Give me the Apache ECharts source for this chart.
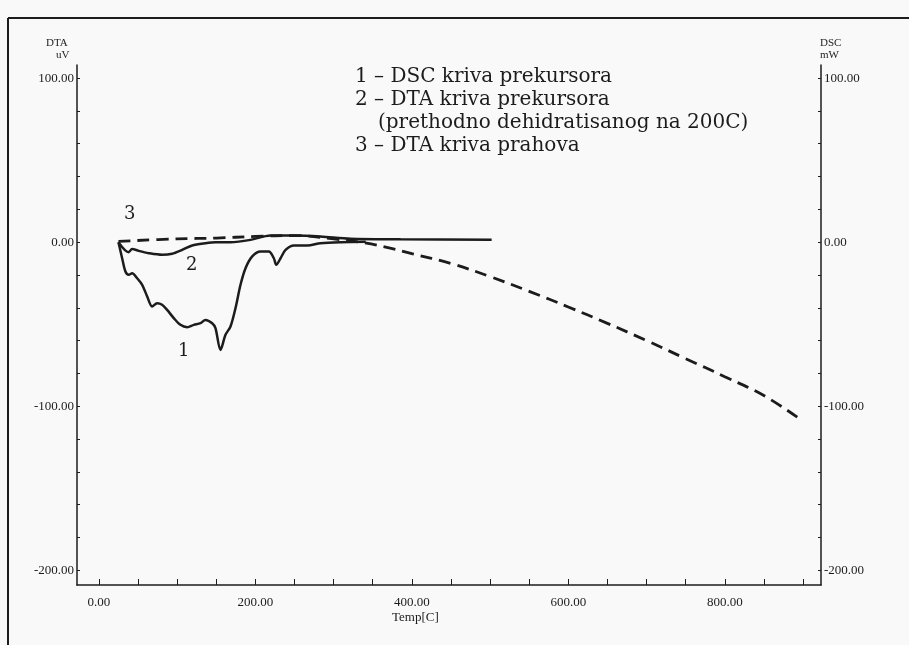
<!DOCTYPE html>
<html>
<head>
<meta charset="utf-8">
<script src="https://cdn.jsdelivr.net/npm/echarts@6/dist/echarts.min.js"></script>
<style>
  html, body { margin: 0; padding: 0; background: #f9f9f9; }
  #chart { width: 909px; height: 645px; }
</style>
</head>
<body>
<div id="chart"></div>
<script>
// 1 - DSC kriva prekursora
var dscTemp = [25, 29.7, 33.9, 38.1, 42.5, 48.9, 55.3, 61.7, 68, 74.4, 80.8, 87.2, 95.7, 104.2, 112.8, 121.3, 129.8, 136.2, 144.8, 149,
  155.4, 161.8, 168.2, 174.6, 181, 187.4, 196, 206.6, 217.2, 223.6, 226.7, 232.2, 238.6, 249.2, 266.3, 283.3, 309, 341];
var dscVal = [0, -9.8, -17.9, -19.9, -18.9, -22, -26, -33.1, -39.2, -37.2, -38.2, -41.3, -46.3, -50.4, -51.8, -50.4, -49.4, -47.4, -49.4, -52.4,
  -65.7, -56.5, -51.4, -40.2, -26, -15.9, -8.7, -5.7, -5.7, -9.8, -13.8, -9.8, -4.7, -2, -2, -0.6, 0, 0.2];

// 2 - DTA kriva prekursora (dehidratisan na 200C)
var dtaPrekTemp = [25, 38.1, 42.5, 50.9, 63.7, 80.8, 93.6, 106.4, 119.2, 136.2, 149, 168, 193.8, 219.4, 248.8, 283.3, 321.7, 385.6, 502];
var dtaPrekVal = [0, -6.1, -4.1, -5.3, -6.7, -7.7, -7.1, -4.7, -2, -0.6, 0, 0, 1.4, 4.1, 4.1, 3.5, 2.1, 1.8, 1.5];

// 3 - DTA kriva prahova
var dtaPrahTemp = [25, 100, 150, 200, 250, 300, 340, 375, 400, 450, 500, 550, 600, 650, 700, 750, 800, 850, 895];
var dtaPrahVal = [0.5, 2, 2.5, 3.5, 4, 2, -0.5, -4, -7, -13, -21, -30, -39.5, -49.5, -60, -71, -82, -93.5, -107.5];

var xLabels = [0, 200, 400, 600, 800];
var xTicks = [0, 50, 100, 150, 200, 250, 300, 350, 400, 450, 500, 550, 600, 650, 700, 750, 800, 850, 900];
var yLabels = [-200, -100, 0, 100];
var yTicks = [-200, -180, -160, -140, -120, -100, -80, -60, -40, -20, 0, 20, 40, 60, 80, 100];

var legendLines = ['1 – DSC kriva prekursora', '2 – DTA kriva prekursora',
  '(prethodno dehidratisanog na 200C)', '3 – DTA kriva prahova'];

function pairs(xs, ys) {
  return xs.map(function (x, i) { return [x, ys[i]]; });
}

var ink = '#1c1c1c';
var labelFont = { fontFamily: 'Liberation Serif', fontSize: 13, color: ink };
var fixed2 = function (v) { return v.toFixed(2); };

function sideAxis(pos) {
  return {
    type: 'value', position: pos, min: -209, max: 108,
    axisLine: { show: true, onZero: false, lineStyle: { color: ink, width: 1.5 } },
    axisTick: { show: true, inside: true, length: 3, customValues: yTicks, lineStyle: { color: ink } },
    axisLabel: Object.assign({ customValues: yLabels, margin: 3, formatter: fixed2 }, labelFont),
    splitLine: { show: false }
  };
}

var graphics = [
  { type: 'line', shape: { x1: 8, y1: 18, x2: 909, y2: 18 }, style: { stroke: ink, lineWidth: 2 } },
  { type: 'line', shape: { x1: 8, y1: 18, x2: 8, y2: 645 }, style: { stroke: ink, lineWidth: 2 } },
  { type: 'text', left: 46, top: 38, style: { text: 'DTA', font: '11px "Liberation Serif"', fill: ink } },
  { type: 'text', left: 56, top: 50, style: { text: 'uV', font: '11px "Liberation Serif"', fill: ink } },
  { type: 'text', left: 820, top: 38, style: { text: 'DSC', font: '11px "Liberation Serif"', fill: ink } },
  { type: 'text', left: 820, top: 50, style: { text: 'mW', font: '11px "Liberation Serif"', fill: ink } },
  { type: 'text', left: 392, top: 611, style: { text: 'Temp[C]', font: '13px "Liberation Serif"', fill: ink } },
  { type: 'text', left: 355, top: 67, style: { text: legendLines[0], font: '20px "DejaVu Serif"', fill: ink } },
  { type: 'text', left: 355, top: 90, style: { text: legendLines[1], font: '20px "DejaVu Serif"', fill: ink } },
  { type: 'text', left: 378, top: 113, style: { text: legendLines[2], font: '20px "DejaVu Serif"', fill: ink } },
  { type: 'text', left: 355, top: 136, style: { text: legendLines[3], font: '20px "DejaVu Serif"', fill: ink } },
  { type: 'text', left: 124, top: 205, style: { text: '3', font: '18px "DejaVu Serif"', fill: ink } },
  { type: 'text', left: 186, top: 256, style: { text: '2', font: '18px "DejaVu Serif"', fill: ink } },
  { type: 'text', left: 178, top: 342, style: { text: '1', font: '18px "DejaVu Serif"', fill: ink } }
];

var chart = echarts.init(document.getElementById('chart'));
chart.setOption({
  backgroundColor: '#f9f9f9',
  animation: false,
  grid: { show: false, left: 77, right: 88, top: 65, bottom: 60 },
  xAxis: {
    type: 'value', min: -28, max: 923, position: 'bottom',
    axisLine: { onZero: false, lineStyle: { color: ink, width: 1.5 } },
    axisTick: { inside: true, length: 6, customValues: xTicks, lineStyle: { color: ink } },
    axisLabel: Object.assign({ customValues: xLabels, margin: 11, formatter: fixed2 }, labelFont),
    splitLine: { show: false }
  },
  yAxis: [sideAxis('left'), sideAxis('right')],
  series: [
    {
      name: 'DSC prekursor', type: 'line', data: pairs(dscTemp, dscVal),
      showSymbol: false, smooth: 0.3, lineStyle: { color: ink, width: 2.5 }
    },
    {
      name: 'DTA prekursor', type: 'line', data: pairs(dtaPrekTemp, dtaPrekVal),
      showSymbol: false, smooth: 0.3, lineStyle: { color: ink, width: 2.5 }
    },
    {
      name: 'DTA prah', type: 'line', data: pairs(dtaPrahTemp, dtaPrahVal),
      showSymbol: false, smooth: 0.4, lineStyle: { color: ink, width: 2.8, type: [12, 7] }
    }
  ],
  graphic: graphics
});
</script>
</body>
</html>
